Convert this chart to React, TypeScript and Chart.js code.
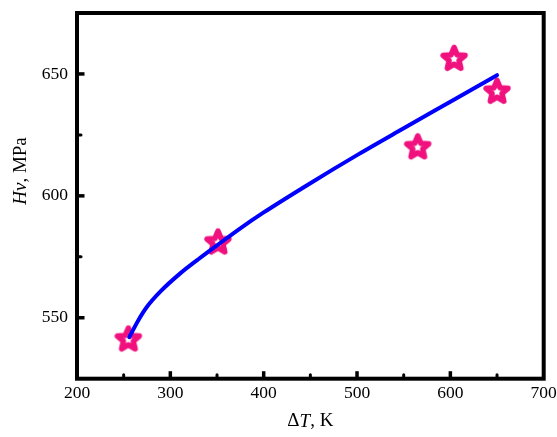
import React, { useEffect, useRef } from "react";
import { Chart, registerables } from "chart.js";
Chart.register(...registerables);

// Measured points (ΔT, K ; Hv, MPa)
const deltaT = [255, 351, 565, 604, 650];
const hv = [541.5, 581.3, 620.3, 656.6, 643.1];
// Fitted curve
const fitT = [256, 265, 275, 290, 310, 330, 350, 375, 400, 450, 500, 550, 600, 650];
const fitHv = [542, 548.5, 554.5, 561, 568, 574, 579.7, 586.7, 593.2, 605.2, 616.7, 627.7, 638.6, 649.5];
// Axes
const xMajor = [200, 300, 400, 500, 600, 700];
const xMinor = [250, 350, 450, 550, 650];
const yMajor = [550, 600, 650];
const yMinor = [575, 625];
const xRange = [200, 700];
const yRange = [525, 675];

const FONT = "'Liberation Serif', 'Times New Roman', serif";
const PINK = "#F0117F";
const BLUE = "#0000FF";

function makeStar(color: string): HTMLCanvasElement {
  const s = 34;
  const c = document.createElement("canvas");
  c.width = s;
  c.height = s;
  const g = c.getContext("2d")!;
  const R = 11.5;
  const r = 5.2;
  const cx = s / 2;
  const cy = s / 2 + 1.1;
  g.beginPath();
  for (let i = 0; i < 10; i++) {
    const rad = i % 2 === 0 ? R : r;
    const a = -Math.PI / 2 + (i * Math.PI) / 5;
    const x = cx + rad * Math.cos(a);
    const y = cy + rad * Math.sin(a);
    if (i === 0) g.moveTo(x, y);
    else g.lineTo(x, y);
  }
  g.closePath();
  g.fillStyle = "#ffffff";
  g.fill();
  g.lineJoin = "round";
  g.lineWidth = 5.5;
  g.strokeStyle = color;
  g.stroke();
  return c;
}

const framePlugin = {
  id: "frame",
  afterDatasetsDraw(chart: any) {
    const { ctx, chartArea: a, scales } = chart;
    const xs = scales.x;
    const ys = scales.y;
    ctx.save();
    ctx.strokeStyle = "#000";
    ctx.fillStyle = "#000";
    const lw = 4;
    ctx.lineWidth = lw;
    ctx.strokeRect(a.left, a.top, a.right - a.left, a.bottom - a.top);
    const inB = a.bottom - lw / 2;
    const inL = a.left + lw / 2;
    ctx.lineWidth = 3.5;
    ctx.lineCap = "butt";
    for (const v of xMajor) {
      const px = xs.getPixelForValue(v);
      if (px <= a.left + 3 || px >= a.right - 3) continue;
      ctx.beginPath();
      ctx.moveTo(px, inB + 1);
      ctx.lineTo(px, inB - 5.5);
      ctx.stroke();
    }
    for (const v of yMajor) {
      const py = ys.getPixelForValue(v);
      ctx.beginPath();
      ctx.moveTo(inL - 1, py);
      ctx.lineTo(inL + 5.5, py);
      ctx.stroke();
    }
    ctx.lineWidth = 3;
    ctx.lineCap = "round";
    for (const v of xMinor) {
      const px = xs.getPixelForValue(v);
      ctx.beginPath();
      ctx.moveTo(px, inB);
      ctx.lineTo(px, inB - 2);
      ctx.stroke();
    }
    for (const v of yMinor) {
      const py = ys.getPixelForValue(v);
      ctx.beginPath();
      ctx.moveTo(inL, py);
      ctx.lineTo(inL + 2, py);
      ctx.stroke();
    }
    // axis titles
    const cxT = (a.left + a.right) / 2;
    ctx.textBaseline = "middle";
    ctx.fillStyle = "#000";
    const parts: [string, boolean][] = [["Δ", false], ["T", true], [", K", false]];
    const fs = 19;
    let total = 0;
    for (const [t, it] of parts) {
      ctx.font = `${it ? "italic " : ""}${fs}px ${FONT}`;
      total += ctx.measureText(t).width;
    }
    let x = cxT - total / 2;
    ctx.textAlign = "left";
    for (const [t, it] of parts) {
      ctx.font = `${it ? "italic " : ""}${fs}px ${FONT}`;
      ctx.fillText(t, x, 421.5);
      x += ctx.measureText(t).width;
    }
    const yparts: [string, boolean][] = [["Hv", true], [", MPa", false]];
    ctx.save();
    ctx.translate(21, 171);
    ctx.rotate(-Math.PI / 2);
    total = 0;
    for (const [t, it] of yparts) {
      ctx.font = `${it ? "italic " : ""}${fs}px ${FONT}`;
      total += ctx.measureText(t).width;
    }
    x = -total / 2;
    for (const [t, it] of yparts) {
      ctx.font = `${it ? "italic " : ""}${fs}px ${FONT}`;
      ctx.fillText(t, x, 0);
      x += ctx.measureText(t).width;
    }
    ctx.restore();
    ctx.restore();
  },
};

export default function App() {
  const ref = useRef<HTMLCanvasElement | null>(null);
  useEffect(() => {
    const canvas = ref.current!;
    const star = makeStar(PINK);
    const chart = new Chart(canvas, {
      type: "scatter",
      data: {
        datasets: [
          {
            type: "line",
            data: fitT.map((t, i) => ({ x: t, y: fitHv[i] })),
            borderColor: BLUE,
            borderWidth: 4,
            pointRadius: 0,
            cubicInterpolationMode: "monotone",
            fill: false,
            borderCapStyle: "round",
          } as any,
          {
            data: deltaT.map((t, i) => ({ x: t, y: hv[i] })),
            pointStyle: star as any,
            pointRadius: 12,
            showLine: false,
          },
        ],
      },
      options: {
        responsive: false,
        animation: false,
        layout: { padding: { left: 0, top: 12, right: 13.3, bottom: 0 } },
        plugins: { legend: { display: false }, tooltip: { enabled: false } },
        scales: {
          x: {
            type: "linear",
            min: xRange[0],
            max: xRange[1],
            grid: { display: false, drawTicks: false },
            border: { display: false },
            afterBuildTicks: (s: any) => {
              s.ticks = xMajor.map((v) => ({ value: v }));
            },
            afterFit: (s: any) => {
              s.height = 58.3;
              s.paddingLeft = 0;
              s.paddingRight = 0;
            },
            ticks: {
              color: "#000",
              padding: 4,
              maxRotation: 0,
              autoSkip: false,
              font: { family: FONT, size: 17.5 },
            },
          },
          y: {
            type: "linear",
            min: yRange[0],
            max: yRange[1],
            grid: { display: false, drawTicks: false },
            border: { display: false },
            afterBuildTicks: (s: any) => {
              s.ticks = yMajor.map((v) => ({ value: v }));
            },
            afterFit: (s: any) => {
              s.width = 77;
              s.paddingTop = 0;
              s.paddingBottom = 0;
            },
            ticks: {
              color: "#000",
              padding: 9,
              autoSkip: false,
              font: { family: FONT, size: 17.5 },
            },
          },
        },
      },
      plugins: [framePlugin],
    });
    return () => chart.destroy();
  }, []);
  return (
    <div style={{ position: "absolute", left: 0, top: 0, width: 557, height: 437, background: "#fff" }}>
      <canvas ref={ref} width={557} height={437} />
    </div>
  );
}
